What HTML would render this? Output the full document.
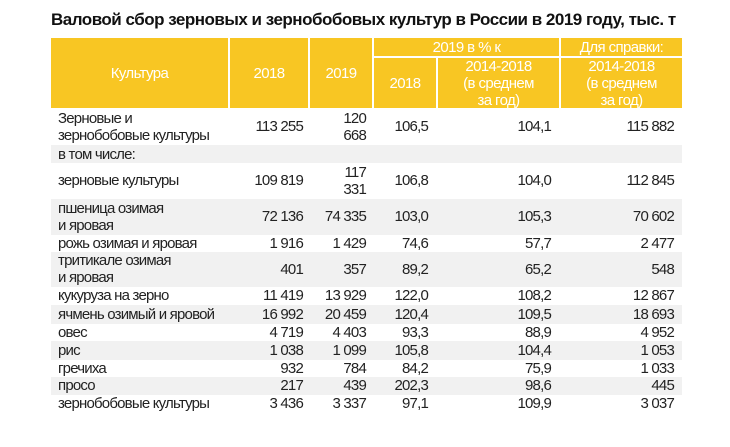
<!DOCTYPE html>
<html><head><meta charset="utf-8"><style>
body{margin:0;width:730px;height:447px;background:#fff;font-family:"Liberation Sans",sans-serif;position:relative;overflow:hidden}
.a{position:absolute;box-sizing:border-box}
.t{position:absolute;font-size:15px;color:#222;letter-spacing:-0.8px;line-height:17px;white-space:nowrap}
.h{position:absolute;background:#f8c623;color:#fff;font-size:15px;letter-spacing:-0.6px;display:flex;align-items:center;justify-content:center;text-align:center;line-height:17px}
.g{position:absolute;left:51px;width:631px;background:#f1f1f1}
</style></head><body>
<div class="t" style="left:51px;top:11px;font-weight:bold;font-size:17px;color:#111;letter-spacing:-0.5px">Валовой сбор зерновых и зернобобовых культур в России в 2019 году, тыс. т</div>
<div class="h" style="left:51px;top:38px;width:177px;height:70px">Культура</div>
<div class="h" style="left:230px;top:38px;width:78px;height:70px">2018</div>
<div class="h" style="left:310px;top:38px;width:62px;height:70px">2019</div>
<div class="h" style="left:374px;top:38px;width:185px;height:18px">2019 в % к</div>
<div class="h" style="left:561px;top:38px;width:121px;height:18px">Для справки:</div>
<div class="h" style="left:374px;top:58px;width:62px;height:50px">2018</div>
<div class="h" style="left:438px;top:58px;width:121px;height:50px">2014-2018<br>(в среднем<br>за год)</div>
<div class="h" style="left:561px;top:58px;width:121px;height:50px">2014-2018<br>(в среднем<br>за год)</div>
<div id="body"></div>
<script>
const names=["Зерновые и<br>зернобобовые культуры","в том числе:","зерновые культуры","пшеница озимая<br>и яровая","рожь озимая и яровая","тритикале озимая<br>и яровая","кукуруза на зерно","ячмень озимый и яровой","овес","рис","гречиха","просо","зернобобовые культуры"];
const v2018=["113 255","","109 819","72 136","1 916","401","11 419","16 992","4 719","1 038","932","217","3 436"];
const v2019=["120<br>668","","117<br>331","74 335","1 429","357","13 929","20 459","4 403","1 099","784","439","3 337"];
const p2018=["106,5","","106,8","103,0","74,6","89,2","122,0","120,4","93,3","105,8","84,2","202,3","97,1"];
const pAvg=["104,1","","104,0","105,3","57,7","65,2","108,2","109,5","88,9","104,4","75,9","98,6","109,9"];
const refAvg=["115 882","","112 845","70 602","2 477","548","12 867","18 693","4 952","1 053","1 033","445","3 037"];
const bounds=[109,145,163,199,235,252,287,305,324,341,360,377,395,412];
const rights=[303,366,428,551,674];
const b=document.getElementById('body');
for(let i=0;i<names.length;i++){
 const top=bounds[i],h=bounds[i+1]-bounds[i],mid=top+h/2;
 if(i%2===1){const g=document.createElement('div');g.className='g';g.style.top=top+'px';g.style.height=h+'px';
 
 
 b.appendChild(g);}
 const n=document.createElement('div');n.className='t';n.innerHTML=names[i];
 
 
 const lines=names[i].split('<br>').length;
 n.style.left='58px';n.style.top=(i===1?top+1:mid-lines*8.5-0.5)+'px';b.appendChild(n);
 [v2018,v2019,p2018,pAvg,refAvg].forEach((arr,j)=>{
  if(!arr[i])return;
  const c=document.createElement('div');c.className='t';c.innerHTML=arr[i];c.style.textAlign='right';
  
  
  const l=arr[i].split('<br>').length;
  c.style.right=(730-rights[j])+'px';c.style.top=(mid-l*8.5-0.5)+'px';b.appendChild(c);
 });
}
</script>
</body></html>
